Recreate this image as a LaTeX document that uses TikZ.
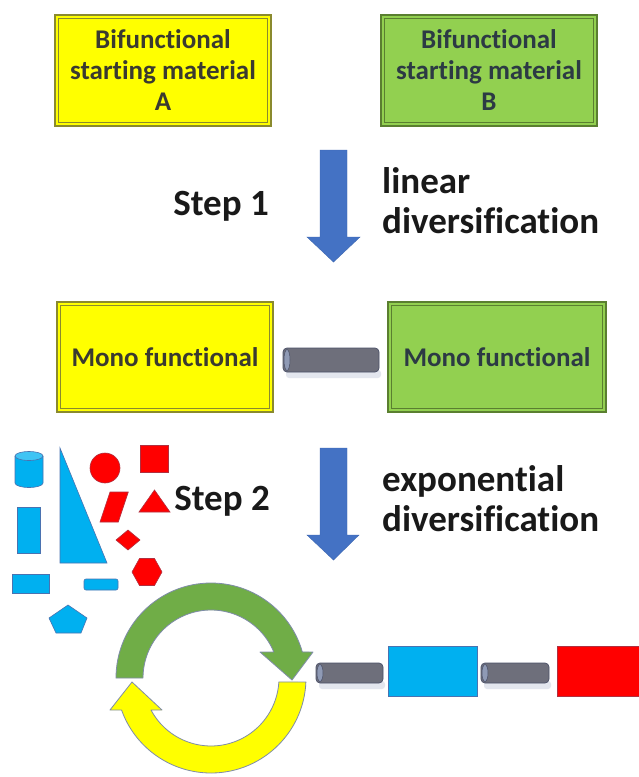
\documentclass[tikz,border=0pt]{standalone}
\usepackage{fontspec}
\setmainfont{Carlito}[RawFeature={-liga}]
\definecolor{boxyellow}{HTML}{FFFF00}
\definecolor{boxyellowline}{HTML}{8A8A2E}
\definecolor{boxgreen}{HTML}{92D050}
\definecolor{boxgreenline}{HTML}{5A7F30}
\definecolor{textA}{HTML}{3A3A30}
\definecolor{textB}{HTML}{2C3A44}
\definecolor{arrowblue}{HTML}{4472C4}
\definecolor{shapeblue}{HTML}{00B0F0}
\definecolor{shapeblueline}{HTML}{4A72B0}
\definecolor{shapered}{HTML}{FF0000}
\definecolor{shaperedline}{HTML}{B03040}
\definecolor{cycgreen}{HTML}{70AD47}
\definecolor{cycyellow}{HTML}{FFFF00}
\definecolor{cycline}{HTML}{7F8CA8}
\definecolor{cylfill}{HTML}{6E6F7B}
\definecolor{cylline}{HTML}{4A5068}
\definecolor{cylcapfill}{HTML}{8F9AB5}
\definecolor{cylshadowc}{HTML}{DCE0EA}
\tikzset{
  boxtext/.style={font=\bfseries\fontsize{27}{31}\selectfont, align=center},
  abox/.style={draw=boxyellowline, fill=boxyellow, line width=1.6pt, minimum width=216pt, minimum height=111pt, inner sep=0pt, text=textA, boxtext},
  bbox/.style={draw=boxgreenline, fill=boxgreen, line width=1.6pt, minimum width=216pt, minimum height=111pt, inner sep=0pt, text=textB, boxtext},
  ainner/.style={draw=boxyellowline, line width=0.8pt},
  binner/.style={draw=boxgreenline, line width=0.8pt},
  steplabel/.style={font=\bfseries\fontsize{37}{40}\selectfont, text=black!90, inner sep=0pt, anchor=base east},
  divlabel/.style={font=\bfseries\fontsize{37}{40}\selectfont, text=black!90, inner sep=0pt, anchor=base west, align=left},
  bluearrow/.style={fill=arrowblue, draw=arrowblue!90!black, line width=0.4pt},
  bshape/.style={fill=shapeblue, draw=shapeblueline, line width=0.6pt},
  rshape/.style={fill=shapered, draw=shaperedline, line width=0.6pt},
  cycarrowg/.style={fill=cycgreen, draw=cycline, line width=0.8pt, line join=round},
  cycarrowy/.style={fill=cycyellow, draw=cycline, line width=0.8pt, line join=round},
  cylbody/.style={fill=cylfill, draw=cylline, line width=0.7pt},
  cylcap/.style={fill=cylcapfill, draw=cylline, line width=0.5pt},
  cylshadow/.style={fill=cylshadowc, opacity=0.8},
}
\newcommand\hcylinder[4]{%
  \fill[cylshadow, rounded corners=3] ({#1+3},{#4-2}) rectangle ({#3+2},{#4+6});
  \draw[cylbody, rounded corners=4] (#1,#2) rectangle (#3,#4);
  \draw[cylcap] ({#1+4},{(#2+#4)/2}) ellipse (3 and {(#4-#2)/2-1.5});
}
\begin{document}
\begin{tikzpicture}[x=1pt,y=-1pt]
\useasboundingbox[fill=white] (0,0) rectangle (639,777);

% top boxes
\node[abox] (sA) at (163,70.5) {Bifunctional\\starting material\\A};
\draw[ainner] ([shift={(4,4)}]sA.north west) rectangle ([shift={(-4,-4)}]sA.south east);
\node[bbox] (sB) at (489,70.5) {Bifunctional\\starting material\\B};
\draw[binner] ([shift={(4,4)}]sB.north west) rectangle ([shift={(-4,-4)}]sB.south east);

% step 1 arrow
\draw[bluearrow] (320,150) -- (347,150) -- (347,237) -- (360,237) -- (333.5,262) -- (307,237) -- (320,237) -- cycle;
\node[steplabel] (s1) at (269,215) {Step 1};
\node[divlabel] (d1) at (382,233) {linear\\diversification};

% mono boxes
\node[abox, minimum height=110pt] (mA) at (165,357) {Mono functional};
\draw[ainner] ([shift={(4,4)}]mA.north west) rectangle ([shift={(-4,-4)}]mA.south east);
\node[bbox, minimum width=218pt, minimum height=110pt] (mB) at (497,357) {Mono functional};
\draw[binner] ([shift={(4,4)}]mB.north west) rectangle ([shift={(-4,-4)}]mB.south east);
\hcylinder{283}{348}{379}{372}

% step 2 arrow
\draw[bluearrow] (320,448) -- (347,448) -- (347,535) -- (359,535) -- (333.5,560) -- (307,535) -- (320,535) -- cycle;
\node[steplabel] (s2) at (270,510) {Step 2};
\node[divlabel] (d2) at (382,531) {exponential\\diversification};

% left building blocks
\draw[bshape] (15,456) -- (15,483) arc[start angle=180, end angle=0, x radius=14, y radius=4.5] -- (43,456);
\draw[bshape, fill=shapeblue!75!white] (29,456) ellipse (14 and 4.5);
\draw[bshape] (17,507) rectangle (40,553);
\draw[bshape] (60,448) -- (60,563) -- (107,563) -- cycle;
\draw[rshape] (105,468) circle[radius=15];
\draw[rshape] (140,445) rectangle (168,472);
\draw[rshape] (110,492) -- (128.3,492) -- (118.3,522) -- (100,522) -- cycle;
\draw[rshape] (154.5,490) -- (170,512) -- (139,512) -- cycle;
\draw[rshape] (128,530) -- (140,540) -- (128,550) -- (116,540) -- cycle;
\draw[rshape] (132,572) -- (139.5,558.5) -- (154.5,558.5) -- (162,572) -- (154.5,585.5) -- (139.5,585.5) -- cycle;
\draw[bshape] (12,574) rectangle (49,593);
\draw[bshape, rounded corners=2] (84,579) rectangle (118,590);
\draw[bshape] (68,605) -- (87,618) -- (81,633) -- (56,633) -- (49,618) -- cycle;

% circular arrows
\draw[cycarrowg] (116,678) arc[start angle=180, end angle=344.1, radius=95]
  -- (313,652) -- (292,680) -- (260,652) -- (273.8,652)
  arc[start angle=337.5, end angle=180, radius=68] -- cycle;
\draw[cycarrowy] (305.9,682) arc[start angle=2.41, end angle=160.3, radius=95]
  -- (110,710) -- (132,682) -- (162,710) -- (151,710)
  arc[start angle=151.9, end angle=3.37, radius=68] -- cycle;

% chain
\hcylinder{316}{663}{383}{683}
\node[bshape, minimum width=89pt, minimum height=50pt, inner sep=0pt] (cb) at (432.5,671) {};
\hcylinder{481}{663}{549}{683}
\node[rshape, minimum width=84pt, minimum height=50pt, inner sep=0pt, anchor=west] (cr) at (557,671) {};
\end{tikzpicture}
\end{document}
